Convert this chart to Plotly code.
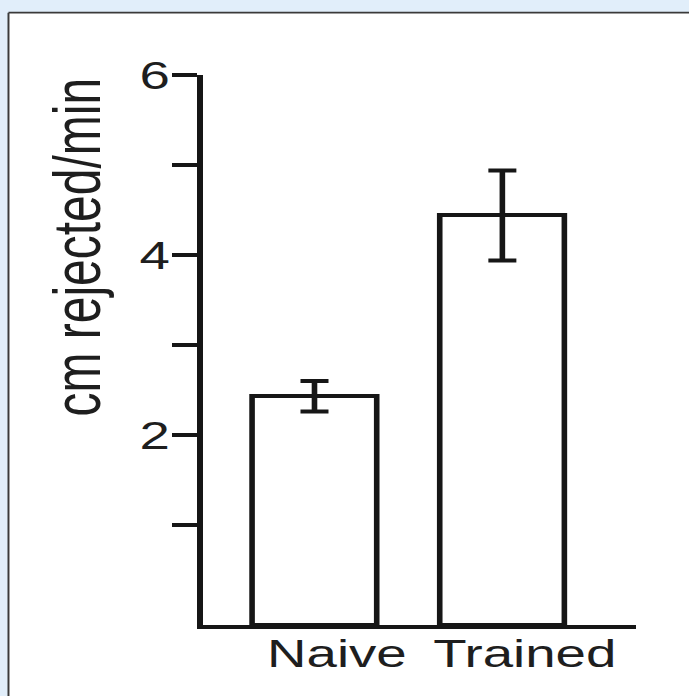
import plotly.graph_objects as go

# --- data -------------------------------------------------------------
groups = ["Naive", "Trained"]
rejected_rate = [2.43, 4.44]        # cm rejected / min
rejected_sem = [0.17, 0.50]
y_tick_values = [1, 2, 3, 4, 5, 6]
y_tick_labels = ["", "2", "", "4", "", "6"]

# --- geometry ---------------------------------------------------------
# The figure is laid out on a narrower canvas and widened horizontally
# in the page, which gives the wide, stretched lettering of the figure.
PAGE_W, PAGE_H = 689, 696
FIG_W = 492
SX = PAGE_W / FIG_W

def ux(px):
    """Page x-pixel -> canvas x-pixel."""
    return px / SX

PLOT_LEFT_PX, PLOT_RIGHT_PX = 203, 636
BAR_CENTER_PX, BAR_STEP_PX = 314.5, 188.0

M_L, M_R, M_T, M_B = ux(PLOT_LEFT_PX), FIG_W - ux(PLOT_RIGHT_PX), 75, 71
PLOT_W = FIG_W - M_L - M_R
PLOT_H = PAGE_H - M_T - M_B
X_RANGE = [(PLOT_LEFT_PX - BAR_CENTER_PX) / BAR_STEP_PX,
           (PLOT_RIGHT_PX - BAR_CENTER_PX) / BAR_STEP_PX]

def px_to_paper_x(px):
    return (ux(px) - M_L) / PLOT_W

def px_to_paper_y(py):
    return (PAGE_H - M_B - py) / PLOT_H

Y_FLOOR = -10 / 90.0          # axis sits a little below zero
INK = "#161616"
TEXT = "#1e1e1e"
FONT = "Liberation Sans, Arial, Helvetica, sans-serif"

fig = go.Figure()
fig.add_trace(
    go.Bar(
        x=groups,
        y=[v - Y_FLOOR for v in rejected_rate],
        base=Y_FLOOR,
        width=0.665,
        marker=dict(color="white", line=dict(color=INK, width=4)),
        error_y=dict(type="data", array=rejected_sem, visible=True,
                     color=INK, thickness=4, width=ux(14)),
        hovertemplate="%{x}: %{customdata:.2f}<extra></extra>",
        customdata=rejected_rate,
        showlegend=False,
    )
)

panel_x0, panel_y0 = px_to_paper_x(8.3), px_to_paper_y(12.7)
edge_x, edge_y = px_to_paper_x(PAGE_W + 20), px_to_paper_y(PAGE_H + 20)

fig.update_layout(
    width=FIG_W,
    height=PAGE_H,
    margin=dict(l=M_L, r=M_R, t=M_T, b=M_B, pad=0),
    paper_bgcolor="#e1eefa",
    plot_bgcolor="rgba(0,0,0,0)",
    font=dict(family=FONT, color=TEXT),
    bargap=0,
    xaxis=dict(
        type="category",
        range=X_RANGE,
        showline=True, linecolor=INK, linewidth=4,
        ticks="", showgrid=False, zeroline=False,
        tickfont=dict(size=39, family=FONT, color=TEXT),
        ticklabelshift=round(ux(22)),
        ticklabelstandoff=-9,
    ),
    yaxis=dict(
        range=[Y_FLOOR, 6],
        tickvals=y_tick_values,
        ticktext=y_tick_labels,
        ticks="outside", ticklen=ux(25), tickwidth=4, tickcolor=INK,
        showline=True, linecolor=INK, linewidth=4,
        showgrid=False, zeroline=False,
        tickfont=dict(size=39, family=FONT, color=TEXT),
        ticklabelstandoff=-6,
    ),
    shapes=[
        # white panel, framed on its top and left sides
        dict(type="rect", xref="paper", yref="paper", layer="below",
             x0=panel_x0, x1=edge_x, y0=edge_y, y1=panel_y0,
             fillcolor="white", line=dict(width=0)),
        dict(type="line", xref="paper", yref="paper", layer="below",
             x0=panel_x0, x1=edge_x, y0=panel_y0, y1=panel_y0,
             line=dict(color="#3a3a3a", width=1.8)),
        dict(type="line", xref="paper", yref="paper", layer="below",
             x0=panel_x0, x1=panel_x0, y0=panel_y0, y1=edge_y,
             line=dict(color="#3a3a3a", width=1.4)),
    ],
    annotations=[
        dict(text="cm rejected/min", textangle=-90,
             xref="paper", yref="paper",
             x=px_to_paper_x(77), y=px_to_paper_y(247.5),
             xanchor="center", yanchor="middle", showarrow=False,
             font=dict(size=48, family=FONT, color=TEXT)),
    ],
)

post_js = (
    "var gd = document.getElementById('{plot_id}');"
    "document.documentElement.style.overflow = 'hidden';"
    "document.body.style.margin = '0';"
    "document.body.style.overflow = 'hidden';"
    "gd.style.transformOrigin = '0 0';"
    "gd.style.transform = 'scaleX(%f)';" % SX
)
fig.write_html("out.html", post_script=post_js)
